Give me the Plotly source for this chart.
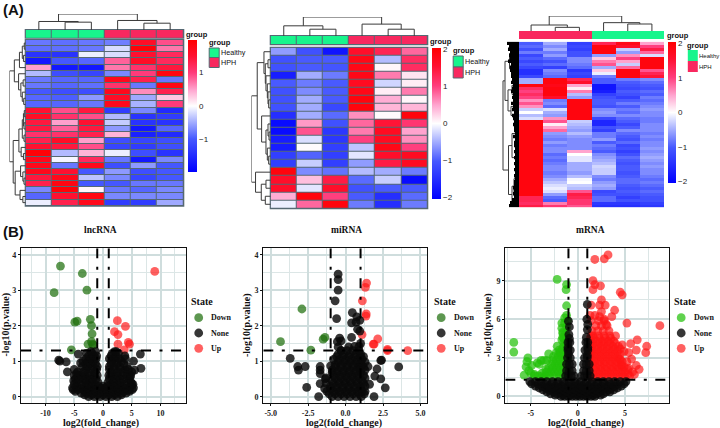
import plotly.graph_objects as go

W, H = 720, 428
SANS = "Liberation Sans"
SERIF = "Liberation Serif"

group_names = ["Healthy", "HPH"]
GREEN, PINK = "#18F58C", "#F8285F"
GRID_EDGE = "#566873"

lnc_heat = [
 [-0.8,-0.85,-0.8,-0.75,1.6,0.9],[-0.85,-0.85,-0.8,-0.2,1.9,0.7],[-1.4,-1.4,-0.1,-0.2,1.5,1.2],
 [-1.7,-1.0,-0.9,0.8,1.6,1.2],[0.5,-1.7,-1.7,0.7,1.1,1.4],[-0.4,-1.1,-1.2,-0.7,1.0,1.8],
 [-0.8,-0.9,-0.9,1.7,1.3,-0.8],[-0.8,-0.9,-0.85,1.1,-0.8,1.8],[-1.0,-1.1,-1.1,1.7,0.6,1.3],
 [-0.9,-0.95,-0.6,1.6,-0.5,0.3],[-0.9,-0.9,-0.8,1.7,-0.45,1.0],[1.5,0.9,1.4,-1.3,-0.7,-1.5],
 [1.6,1.1,0.9,-0.4,-1.4,-1.3],[1.4,0.5,1.5,-0.3,-1.4,-1.4],[1.4,0.8,1.4,-0.6,-1.7,-0.9],
 [1.1,1.1,1.3,0.4,-1.6,-1.5],[1.3,1.6,0.5,-1.1,-1.2,-1.1],[1.5,1.4,0.9,-1.2,-1.3,-1.1],
 [1.9,-0.4,0.4,-0.1,-1.1,-1.4],[1.7,-0.05,1.2,-0.8,-1.7,-0.7],[1.7,-0.8,1.7,-1.1,-0.6,-1.0],
 [1.7,1.5,-1.0,-0.6,-1.1,-1.0],[1.4,1.7,-0.35,-0.7,-1.2,-1.0],[1.3,1.8,-1.0,-1.0,-0.8,-0.8],
 [-0.7,1.9,0.05,-0.8,-0.9,-0.7],[-0.9,1.5,1.8,-0.7,-0.7,-0.7],[-0.1,1.3,1.7,-1.3,-1.3,-0.5]]
mi_heat = [
 [-0.6,-1.1,-1.8,1.6,1.3,0.8],[-1.1,-1.0,-1.0,1.8,-0.4,1.2],[-1.1,-1.0,-1.05,1.8,0.05,1.2],
 [-1.7,-0.5,-0.8,1.8,0.7,0.15],[-1.0,-0.8,-1.0,1.7,-0.25,0.1],[-1.1,-0.7,-1.0,1.8,0.1,0.7],
 [-1.1,-0.5,-1.0,1.9,0.45,0.05],[-1.1,-0.5,-1.2,1.9,0.4,0.4],[-1.5,-0.5,-0.9,0.6,0.02,1.9],
 [-1.9,0.55,-1.1,0.8,1.5,1.1],[-1.9,0.9,-1.4,0.7,1.7,0.5],[-1.7,-0.2,-1.4,1.0,1.7,0.6],
 [-1.7,0.02,-1.3,-0.35,1.8,1.0],[-1.3,-0.95,-1.3,-0.15,1.6,1.7],[-1.3,-0.3,-1.3,-0.6,1.4,1.7],
 [1.9,-0.7,-0.85,-0.4,-0.5,-0.8],[1.6,0.35,1.4,-0.9,-0.3,-1.9],[1.6,-0.15,1.6,-1.1,-1.0,-1.0],
 [0.45,1.9,1.0,-1.0,-1.5,-0.9],[-0.1,0.8,1.9,-0.8,-1.5,-0.8]]
m_heat = [
 [-1.0,-0.5,-1.3,1.3,1.8,0.5],[-0.9,-0.7,-1.2,1.9,1.6,1.0],[-1.1,-0.5,-1.3,1.9,-0.3,1.4],
 [-0.8,-0.8,-1.1,1.9,-0.6,0.8],[-1.2,-0.6,-1.1,-0.6,0.6,-0.2],[-1.0,-0.9,-0.7,0.3,1.0,1.9],
 [-1.2,-1.1,-0.7,0.7,0.5,1.9],[-1.0,-0.9,-0.8,0.9,-0.3,1.9],[-1.2,-1.3,-0.9,-0.5,0.8,1.9],
 [-1.5,-0.7,-1.4,0.3,1.9,0.9],[-1.5,-0.8,-1.2,-0.1,1.9,1.3],[-1.2,-0.9,-1.3,-0.8,1.9,1.5],
 [-0.5,1.9,1.3,-1.0,-0.8,-0.7],[-0.5,1.9,1.6,-1.0,-1.0,-0.9],[1.9,1.8,0.5,-1.8,-1.1,-1.0],
 [1.2,1.9,0.1,-1.8,-1.2,-1.1],[1.0,1.9,0.7,-1.7,-1.0,-0.9],[1.2,1.9,-0.4,-1.3,-1.1,-1.0],
 [1.0,1.6,-0.6,-1.1,-1.3,-0.8],[0.6,-0.8,1.9,-1.0,-1.0,-0.9],[0.9,-0.7,1.9,-1.0,-0.8,-0.8],
 [0.6,-0.9,1.9,-1.1,-1.0,-0.7],[-0.3,-0.2,1.9,-0.7,-0.8,-0.6],[0.0,-0.5,1.9,-0.6,-0.9,-0.7],
 [-0.4,-0.6,1.9,-0.7,-0.7,-0.7],[-0.2,0.6,1.9,-1.2,-0.9,-0.8],[1.9,0.9,-0.3,-1.6,-1.0,-0.8],
 [1.9,0.1,-0.4,-1.6,-1.2,-0.7],[1.9,0.5,-0.5,-1.1,-1.0,-0.7],[1.9,0.8,-0.6,-1.3,-0.7,-0.7],
 [1.9,-0.6,-0.4,-0.8,-0.9,-0.8],[1.9,-0.7,-0.6,-0.8,-1.0,-0.7],[1.9,-0.8,-0.7,-0.6,-1.1,-0.8],
 [1.9,-0.6,-0.7,-1.0,-0.9,-0.7],[1.9,-0.8,-0.7,-0.8,-1.2,-0.7],[1.9,-0.7,-0.7,-0.9,-1.1,-0.6],
 [1.9,-0.7,0.5,-1.0,-1.3,-0.7],[1.9,-0.9,0.0,-0.7,-1.1,-0.6],[1.9,-0.8,-0.15,-0.6,-0.9,-0.5],
 [1.9,-0.9,-0.15,-0.5,-1.0,-0.6],[1.9,-0.8,-0.5,-0.4,-1.1,-0.7],[1.9,-0.7,-0.5,-0.25,-1.0,-0.6],
 [1.9,-0.7,-0.5,-0.3,-1.0,-0.7],[1.9,-0.8,-0.6,-0.3,-1.1,-0.7],[1.9,-0.7,-0.4,-0.7,-1.0,-0.8],
 [1.9,-0.5,-0.05,-0.8,-0.9,-0.9],[1.9,-0.35,0.0,-0.6,-0.9,-0.8],[1.9,-0.2,-0.3,-0.5,-1.0,-0.9],
 [1.9,-0.1,-0.4,-0.6,-1.1,-1.0],[1.9,-0.2,0.9,-1.2,-1.0,-0.9],[1.9,-0.6,1.4,-1.1,-1.1,-1.0],
 [1.3,-0.9,1.3,-0.9,-1.3,-1.1],[1.3,-1.0,1.1,-0.9,-1.1,-1.1],[1.2,0.7,1.1,-1.4,-1.4,-1.3],
 [1.4,1.1,0.9,-1.5,-1.5,-1.4]]

lnc_groups = [0,0,0,1,1,1]
mi_groups = [0,0,0,1,1,1]
m_groups = [1,1,1,0,0,0]

# dendrograms: [merge height, child, child]; a bare integer is a leaf position
lnc_col_tree = [47,[25,0,[23,1,2]],[28,3,[20,4,5]]]
mi_col_tree = [56,[30,0,[20,1,2]],[35,3,[20,4,5]]]
m_col_tree = [45,[18,0,[11,1,2]],[25,3,[21,4,5]]]
lnc_row_tree = [57,[40,[22,[12,[5,0,1],[8,2,3]],4],[25,5,[17,[9,6,7],[12,8,[7,9,10]]]]],
                [44,[24,[12,[8,[5,11,12],[6,13,14]],[6,15,16]],[16,17,[8,18,19]]],
                 [37,[18,20,[10,21,[6,22,23]]],[20,24,[10,25,26]]]]]
mi_row_tree = [57,[40,[20,0,[16,[8,1,2],[14,3,[10,4,[8,5,[6,6,7]]]]]],
                   [27,8,[14,[8,9,[5,10,11]],[10,12,[6,13,14]]]]],
               [45,15,[28,[14,16,17],[16,18,19]]]]
m_row_tree = [16,[14,[9.5,[6,2,5],[7,7,10]],[11,[7,14,17],[8,21,24]]],
              [10.5,[7,30,38],[7,[5,45,50],[5,52,54]]]]
m_row_stubs = [12,10,11,9,10,9,11,8,9,9,8,8,7,8,6,7,8,6,7,6,8,6,7,5,7,6,5,6,5,5,4,6,4,5,5,
               4,5,4,5,4,5,4,5,4,5,4,5,5,6,5,6,5,7,9,10]

# volcano points
lnc_down_x = [-7.4,-8.5,-3.6,-2.8,-2.2,-4.9,-4.5,-2.0,-1.9,-2.6,-2.0,-1.8,-5.5,-1.7]
lnc_down_y = [3.68,2.93,3.47,3.0,2.18,2.1,2.13,2.0,1.77,1.48,1.55,1.48,1.32,1.45]
lnc_up_x = [9.0,2.5,3.9,2.0,2.6,2.6,4.4,4.6,3.7]
lnc_up_y = [3.53,2.14,1.98,1.83,1.75,1.48,1.53,1.48,1.32]
lnc_none_x = [-7.7,-7.5,-6.4,-6.2,5.5,6.6,6.5,-4.3,3.8,5.3,4.9,-4.8,-5.1,-4.6,-3.9,4.7,5.0,3.9]
lnc_none_y = [1.03,1.0,0.98,0.7,0.75,0.8,1.2,1.2,1.15,1.0,0.4,0.5,0.45,0.65,0.95,0.55,0.35,0.75]
mi_down_x = [-2.92,-4.35,-1.38,-1.5,-2.32]
mi_down_y = [2.47,1.55,1.67,1.62,1.31]
mi_up_x = [1.4,1.32,1.12,1.38,1.36,1.1,2.15,1.9,1.85,2.8,4.15,2.8]
mi_up_y = [3.2,3.08,2.7,2.33,2.27,1.75,1.63,1.48,1.48,1.33,1.3,1.3]
mi_none_x = [-0.5,-0.5,-0.5,-0.7,-0.6,0.45,0.75,0.4,0.7,0.95,0.8,0.95,-0.4,-0.55,-0.3,0.4,1.0,-0.5,-0.3,0.2,
 -3.7,-3.2,-3.15,-2.7,-1.7,-1.7,-1.7,-1.0,-1.7,-1.35,-2.6,-1.8,2.35,2.4,2.1,1.95,2.35,2.65,1.9,3.55,1.6,1.5]
mi_none_y = [3.45,3.3,3.0,2.7,2.2,2.37,2.25,2.08,2.1,2.15,1.9,1.85,1.65,1.55,1.57,1.67,1.5,1.4,1.3,1.4,
 1.08,0.85,0.75,0.85,0.85,0.75,0.65,0.87,0.37,0.5,0.26,0.0,1.02,1.03,0.78,0.58,0.5,0.25,0.0,0.84,0.35,0.85]
m_down_x = [-2.2,-1.2,-1.25,-1.2,-1.2,-1.4,-1.7,-1.7,-1.6,-6.8,-6.8,-5.3,-5.4,-5.5,-3.9,-3.1,-3.3,-2.2,-2.0,-5.7,-5.0,-4.6,-4.3,-3.8,-5.2,-4.9,
 -3.6,-3.4,-1.6,-1.2,-1.5,-1.9,-1.3,-1.6,-1.1,-1.3,-1.1,-1.4,-1.1,-1.2,-1.5,-1.3,-1.8]
m_down_y = [9.1,8.7,8.3,7.05,6.3,6.1,5.7,5.3,4.6,4.2,3.45,3.0,2.7,2.3,2.8,3.3,2.8,3.9,3.6,1.65,1.8,1.7,2.6,1.8,2.0,2.4,
 1.5,2.1,5.0,5.4,4.5,3.4,4.1,3.8,3.9,3.4,3.0,5.7,5.9,4.7,4.2,3.6,3.3]
m_up_x = [2.8,3.2,1.8,1.6,1.8,1.6,2.4,4.5,4.7,1.4,2.5,2.3,2.9,2.5,3.9,3.6,1.3,1.8,2.3,2.8,3.0,5.2,8.7,6.3,7.3,7.2,6.2,5.4,5.6,4.7,6.2,6.5,5.8,5.5,4.6,4.9,5.4,5.7,5.2,4.4,6.0]
m_up_y = [10.7,11.0,10.65,9.0,8.7,8.3,8.6,8.1,7.9,7.1,7.5,7.1,7.1,6.6,6.7,6.2,6.3,6.3,6.2,6.0,5.6,5.7,5.5,4.4,3.9,3.4,3.6,3.4,4.1,4.0,2.4,2.1,1.9,1.6,2.4,2.3,2.2,2.9,2.7,2.9,1.7]
m_none_x = [-1.0,-0.9,-0.95,-0.9,-1.05,-1.0,0.95,1.0,1.05,1.0,0.9,1.05,1.0]
m_none_y = [5.85,5.4,4.8,4.5,3.8,3.3,6.0,7.15,5.6,5.2,4.6,3.8,3.2]

def add_row(xs, ys, y, row):
    xs.extend(row)
    ys.extend([y] * len(row))

for y, row in [
    (0.0,[-2.5,-1.5,-0.5,0.5,1.5,2.5]),
    (0.05,[-3.2,-2,-1,0,1,2,3.2]),
    (0.1,[-3.8,-2.8,-1.8,-0.8,0.2,1.2,2.2,3.2,4.0]),
    (0.15,[-4.8,-3.2,-2.3,-1.3,-0.3,0.7,1.7,2.7,3.7,4.6]),
    (0.2,[-5.2,-4.4,-3.4,-2.4,-1.4,-0.4,0.6,1.6,2.6,3.6,4.5,5.1]),
    (0.25,[-5.3,-4,-2.7,-1.5,-0.4,0.4,1.5,2.6,3.8,5.3]),
    (0.3,[-4.6,-3.2,-2,-0.8,0,0.8,2,3.2,4.8]),
    (0.35,[-5,-3.8,-2.6,-1.4,1.4,2.5,3.8,5.2]),
    (0.42,[-4.5,-3,-1.9,-0.9,0.9,1.8,3,4.4]),
    (0.5,[-4.2,-3.5,-3,-2.4,-1.8,-1.2,1.1,1.7,2.4,3,3.6,4.5]),
    (0.6,[-5,-4.3,-3.8,-3.1,-2.3,-1.5,-1,1,1.3,2,2.6,3.4,4.2,4.8]),
    (0.7,[-4.4,-3.4,-2.5,-1.4,1.4,2.5,3.5,5]),
    (0.77,[-5,-3,-2,-1.1,1.1,2,3,4.4]),
    (0.85,[-3.6,-2.7,-1.7,-1,1.1,1.9,2.9,4.2]),
    (0.93,[-3,-2.2,-1.3,1.4,2.4,3.6]),
    (1.0,[-3.5,-2.6,-1.7,1.5,2.4,3.2]),
    (1.07,[-3,-2.1,-1.2,1.1,1.9,2.8,3.9]),
    (1.15,[-2.5,-1.6,-1.1,1.4,2.2]),
    (1.22,[-2.9,-1.9,1.6,2.7]),
    (1.27,[-2.1,-1.3,2.0,2.3])]:
    add_row(lnc_none_x, lnc_none_y, y, row)

for y, row in [
    (0.0,[-0.9,-0.5,-0.1,0.3,0.7,1.05]),
    (0.08,[-1.1,-0.7,-0.3,0.1,0.5,0.9,1.25]),
    (0.15,[-1.25,-0.8,-0.4,0,0.4,0.8,1.1,1.3]),
    (0.23,[-1.4,-1,-0.6,-0.2,0.2,0.6,1.0]),
    (0.3,[-1.0,-0.6,-0.2,0.2,0.6,1.0,1.3]),
    (0.38,[-1.3,-0.8,-0.4,0,0.4,0.8,1.2]),
    (0.45,[-0.9,-0.5,-0.1,0.3,0.7,1.1]),
    (0.53,[-1.3,-0.7,-0.3,0.1,0.5,0.9,1.3]),
    (0.6,[-0.8,-0.4,0,0.4,0.8,1.2]),
    (0.68,[-0.9,-0.6,-0.2,0.2,0.6,1.0]),
    (0.75,[-0.9,-0.5,-0.1,0.3,0.7,1.0,1.3]),
    (0.83,[-0.7,-0.3,0.1,0.5,0.9,1.2]),
    (0.9,[-0.7,-0.3,0.1,0.5,0.9,1.1]),
    (0.98,[-0.5,-0.1,0.3,0.7,1.0,1.3]),
    (1.05,[-0.8,-0.4,0,0.4,0.8,1.1]),
    (1.13,[-0.6,-0.2,0.2,0.6,1.0,1.2]),
    (1.2,[-0.5,-0.1,0.3,0.7,1.0]),
    (1.3,[-0.3,0.1,0.5,0.9]),
    (1.42,[0.6,0.9])]:
    add_row(mi_none_x, mi_none_y, y, row)

for y, row in [
    (1.6,[-2.0,-2.5,-3,-3.4,-3.8,-4.2,-4.6,-1.6,-1.2]),
    (1.9,[-1.3,-1.7,-2.1,-2.5,-2.9,-3.3,-1.1]),
    (2.2,[-1.1,-1.5,-1.9,-2.3,-2.7,-3.1]),
    (2.5,[-1.2,-1.6,-2,-2.4,-2.8,-4.1]),
    (2.8,[-1.1,-1.5,-1.9,-2.3,-2.7,-3.6]),
    (3.1,[-1.3,-1.7,-2.1,-2.6]),
    (3.4,[-1.5,-1.9,-2.3,-1.1]),
    (3.7,[-1.2,-1.6]),
    (4.4,[-1.3,-1.7]),
    (4.9,[-1.3,-1.6])]:
    add_row(m_down_x, m_down_y, y, row)

for y, row in [
    (1.5,[1.4,2.0,2.6,3.2,3.8,4.4,5.0]),(1.7,[1.2,1.7,2.3,2.9,3.5,4.1,4.7,5.3]),
    (1.9,[1.4,2.0,2.6,3.2,3.8,4.4,5.0]),(2.1,[1.2,1.7,2.3,2.9,3.5,4.1,4.7,5.3]),
    (2.3,[1.3,1.9,2.5,3.1,3.7,4.3]),(2.5,[1.2,1.6,2.2,2.8,3.4,4.0,4.6]),
    (2.7,[1.2,1.8,2.4,3.0,3.6,4.2,4.7]),(2.9,[1.3,1.5,2.1,2.7,3.3,3.9,4.5]),
    (3.1,[1.2,1.8,2.4,3.0,3.6,4.2]),(3.3,[1.3,1.5,2.1,2.7,3.3,3.9,4.5]),
    (3.5,[1.2,1.8,2.4,3.0,3.6,4.2,4.9]),(3.7,[1.3,1.5,2.1,2.7,3.3,3.9,4.5]),
    (3.9,[1.3,1.9,2.5,3.1,3.7,4.3]),(4.1,[1.3,1.6,2.2,2.8,3.4,4.0]),
    (4.3,[1.4,2.0,2.6,3.2,3.8]),(4.5,[1.3,1.7,2.3,2.9,3.5]),
    (4.7,[1.4,1.6,2.2,2.8,3.4,4.0]),(5.1,[1.5,2.1,2.7,3.3]),
    (5.5,[1.9,2.5,3.1]),(5.9,[2.2,2.8,1.4])]:
    add_row(m_up_x, m_up_y, y, row)

for y, row in [
    (0.0,[-1.8,-1.4,-1,-0.6,-0.2,0.2,0.6,1,1.4,1.8]),
    (0.1,[-2.4,-1.6,-0.8,0,0.8,1.6,2.4]),
    (0.2,[-2.9,-2.2,-1.5,-0.8,-0.1,0.6,1.3,2,2.7]),
    (0.35,[-3.3,-2.6,-1.9,-1.2,-0.5,0.2,0.9,1.6,2.3,3,3.4]),
    (0.5,[-3.7,-3,-2.3,-1.6,-0.9,-0.2,0.5,1.2,1.9,2.6,3.3,3.8]),
    (0.65,[-4.1,-3.4,-2.7,-2,-1.3,-0.6,0.1,0.8,1.5,2.2,2.9,3.6,4.2]),
    (0.8,[-4.5,-3.8,-3.1,-2.4,-1.7,-1,-0.3,0.4,1.1,1.8,2.5,3.2,3.9,4.6]),
    (0.97,[-4.9,-4.2,-3.5,-2.8,-2.1,-1.4,-0.7,0,0.7,1.4,2.1,2.8,3.5,4.2,4.9]),
    (1.15,[-5.1,-4.5,-3.9,-3.3,-2.7,-2.1,-1.5,-0.9,-0.3,0.3,0.9,1.5,2.1,2.7,3.3,3.9,4.5,5.1]),
    (1.6,[-1.3,-1.0,-0.7,-0.4,0.4,0.7,1.0,1.3]),
    (2.0,[-1.2,-0.9,-0.6,0.6,0.9,1.2]),
    (2.5,[-1.2,-0.9,-0.6,0.6,0.9,1.2]),
    (3.0,[-1.1,-0.8,0.7,1.0]),
    (3.6,[-1.05,-0.8,0.75,1.05]),
    (4.2,[-1.05,-0.85,0.85,1.05])]:
    add_row(m_none_x, m_none_y, y, row)

fc_cuts = [-1, 1]
p_cut = 1.3
lnc_xticks = [-10,-5,0,5,10]
mi_xticks = [-5.0,-2.5,0.0,2.5,5.0]
m_xticks = [-5,0,5]
lnc_yticks = [0,1,2,3,4]
mi_yticks = [0,1,2,3,4]
m_yticks = [0,3,6,9]

HEAT_SCALE = [[0,"#0000FF"],[0.25,"#4658FF"],[0.38,"#A4AEFF"],[0.5,"#FFFFFF"],
              [0.62,"#FFA6D0"],[0.75,"#FF3C7C"],[0.88,"#FF1030"],[1,"#FF0000"]]

fig = go.Figure()
shapes, annos = [], []
axes = {}
axis_n = [0]

def fx(px): return px / W
def fy(py): return 1 - py / H

def new_axes(x0, x1, y0, y1, **kw):
    axis_n[0] += 1
    n = axis_n[0]
    sx = "" if n == 1 else str(n)
    xa = dict(domain=[fx(x0), fx(x1)], anchor="y" + sx, showgrid=False, zeroline=False,
              showticklabels=False, ticks="", showline=False, fixedrange=True)
    ya = dict(domain=[fy(y1), fy(y0)], anchor="x" + sx, showgrid=False, zeroline=False,
              showticklabels=False, ticks="", showline=False, fixedrange=True)
    xa.update(kw.get("xa", {})); ya.update(kw.get("ya", {}))
    axes["xaxis" + sx] = xa
    axes["yaxis" + sx] = ya
    return "x" + sx, "y" + sx

def text(x, y, s, size=8, family=SANS, weight=400, anchor="left", angle=0, color="#111"):
    annos.append(dict(x=fx(x), y=fy(y), xref="paper", yref="paper", text=s, showarrow=False,
                      xanchor=anchor, yanchor="middle", textangle=angle, borderpad=0, borderwidth=0,
                      font=dict(family=family, size=size, color=color, weight=weight)))

def rect(x0, y0, x1, y1, fill, line=None, lw=1, layer="above"):
    shapes.append(dict(type="rect", xref="paper", yref="paper", x0=fx(x0), x1=fx(x1), y0=fy(y1), y1=fy(y0),
                       fillcolor=fill, line=dict(color=line or fill, width=lw if line else 0), layer=layer))

def walk(node, segs):
    if isinstance(node, int):
        return node, 0
    h, a, b = node
    pa, ha = walk(a, segs)
    pb, hb = walk(b, segs)
    segs.append((pa, ha, pa, h)); segs.append((pb, hb, pb, h)); segs.append((pa, h, pb, h))
    return (pa + pb) / 2, h

def dendro(tree, x0, x1, y0, y1, n, vertical, maxh, stubs=None):
    segs = []
    walk(tree, segs)
    xs, ys = [], []
    for p0, h0, p1, h1 in segs:
        if vertical:
            xs += [p0, p1, None]; ys += [h0, h1, None]
        else:
            xs += [h0, h1, None]; ys += [p0, p1, None]
    if vertical:
        xr, yr = [-0.5, n - 0.5], [0, maxh]
    else:
        xr, yr = [maxh, 0], [n - 0.5, -0.5]
    a, b = new_axes(x0, x1, y0, y1, xa=dict(range=xr), ya=dict(range=yr))
    fig.add_trace(go.Scatter(x=xs, y=ys, xaxis=a, yaxis=b, mode="lines", hoverinfo="skip", showlegend=False,
                             line=dict(color="#3a3a3a", width=1)))
    if stubs:
        sx, sy = [], []
        for i, s in enumerate(stubs):
            sx += [0, s, None]; sy += [i, i, None]
        fig.add_trace(go.Scatter(x=sx, y=sy, xaxis=a, yaxis=b, mode="lines", hoverinfo="skip", showlegend=False,
                                 line=dict(color="#000", width=3.4)))

def heat(z, groups, col_tree, row_tree, box, ann, top_h, left_x, cb, ticks, gaps, lg, topmax, rowmax, stubs=None):
    x0, x1, y0, y1 = box
    gap = 1 if gaps else 0
    if gaps:
        rect(x0 - 1, y0 - 1, x1 + 1, y1 + 1, GRID_EDGE, layer="below")
        rect(x0 - 1, ann[0] - 1, x1 + 1, ann[1] + 1, GRID_EDGE, layer="below")
    a, b = new_axes(x0, x1, y0, y1, ya=dict(autorange="reversed"))
    fig.add_trace(go.Heatmap(z=z, xaxis=a, yaxis=b, colorscale=HEAT_SCALE, zmin=cb["zmin"], zmax=cb["zmax"],
        xgap=gap, ygap=gap, hoverinfo="skip",
        colorbar=dict(x=fx(cb["x"]), xanchor="left", y=fy(cb["y0"]), yanchor="top", thickness=cb["w"], thicknessmode="pixels",
                      len=cb["y1"] - cb["y0"], lenmode="pixels", xpad=0, ypad=0, outlinewidth=0, borderwidth=0,
                      tickvals=ticks, ticklen=0, ticks="", ticklabelposition="outside",
                      tickfont=dict(family=SANS, size=8, color="#222"))))
    a, b = new_axes(x0, x1, ann[0], ann[1])
    fig.add_trace(go.Heatmap(z=[groups], xaxis=a, yaxis=b, showscale=False, zmin=0, zmax=1, xgap=gap, hoverinfo="skip",
                             colorscale=[[0, GREEN], [0.5, GREEN], [0.5, PINK], [1, PINK]]))
    dendro(col_tree, x0, x1, top_h, ann[0], len(z[0]), True, topmax)
    dendro(row_tree, left_x, x0, y0, y1, len(z), False, rowmax, stubs)
    text(lg["gx"], lg["gy"], "group", 7.5, weight=700)
    text(lg["tx"], lg["ty"], "group", 7.5, weight=700)
    border = GRID_EDGE if gaps else None
    rect(lg["tx"] + 0.5, lg["s0"], lg["tx"] + 10.5, lg["s1"], GREEN, border, 1)
    rect(lg["tx"] + 0.5, lg["s1"], lg["tx"] + 10.5, lg["s2"], PINK, border, 1)
    text(lg["tx"] + 12, (lg["s0"] + lg["s1"]) / 2, group_names[0], lg["fs"])
    text(lg["tx"] + 12, (lg["s1"] + lg["s2"]) / 2, group_names[1], lg["fs"])

heat(lnc_heat, lnc_groups, lnc_col_tree, lnc_row_tree, (25.7, 183.3, 40, 205.7), (30, 37.7), 14, 9.5,
     dict(x=187.7, w=9, y0=40, y1=171.7, zmin=-1.97, zmax=1.97), [-1, 0, 1], True,
     dict(gx=186, gy=34.7, tx=208.7, ty=43, s0=48, s1=57.5, s2=67.5, fs=7.2), 47, 57)
heat(mi_heat, mi_groups, mi_col_tree, mi_row_tree, (270.7, 427.3, 47.7, 208.3), (36, 44.3), 17, 251.5,
     dict(x=432, w=8.7, y0=47.7, y1=198.3, zmin=-2.03, zmax=2.03), [-2, -1, 0, 1, 2], True,
     dict(gx=430, gy=41, tx=452.7, ty=51, s0=56, s1=67, s2=78, fs=7.2), 56, 57)
heat(m_heat, m_groups, m_col_tree, m_row_tree, (519, 664, 41.7, 207.3), (31, 39), 16, 502,
     dict(x=668, w=8, y0=42, y1=183.3, zmin=-2.04, zmax=2.04), [-2, -1, 0, 1, 2], False,
     dict(gx=666.7, gy=35.7, tx=687.3, ty=45, s0=50, s1=61, s2=72, fs=6), 45, 17, m_row_stubs)

C_NONE = "#0a0a0a"
C_UP = "#FF1414"
MARK = 8.8

def volcano(title, down, none, up, box, xr, yr, xticks, xlabels, yticks, xminor, yminor, c_down, geom):
    x0, x1, y0, y1 = box
    a, b = new_axes(x0, x1, y0, y1,
        xa=dict(range=xr, tickvals=xticks, ticktext=xlabels, showticklabels=True, ticks="outside", ticklen=2, tickcolor="#111",
                showgrid=True, gridcolor="#CFDDDD", gridwidth=2, showline=True, mirror=True, linecolor="#111", linewidth=1.2,
                minor=dict(tickvals=xminor, showgrid=True, gridcolor="#DCE6E6", gridwidth=1.4, ticks=""),
                tickfont=dict(family=SERIF, size=8, weight=700, color="#222")),
        ya=dict(range=yr, tickvals=yticks, showticklabels=True, ticks="outside", ticklen=2, tickcolor="#111",
                showgrid=True, gridcolor="#CFDDDD", gridwidth=2, showline=True, mirror=True, linecolor="#111", linewidth=1.2,
                minor=dict(tickvals=yminor, showgrid=True, gridcolor="#DCE6E6", gridwidth=1.4, ticks=""),
                tickfont=dict(family=SERIF, size=8, weight=700, color="#222")))
    for (px, py), col, op in ((down, c_down, 0.72), (up, C_UP, 0.68), (none, C_NONE, 0.82)):
        fig.add_trace(go.Scatter(x=px, y=py, xaxis=a, yaxis=b, mode="markers", hoverinfo="skip", showlegend=False,
                                 marker=dict(size=MARK, color=col, opacity=op, line=dict(width=0)), cliponaxis=True))
    dash = "10px,8.5px,3px,8.5px"
    for c in fc_cuts:
        fig.add_trace(go.Scatter(x=[c, c], y=[yr[1], yr[0]], xaxis=a, yaxis=b, mode="lines", hoverinfo="skip", showlegend=False,
                                 line=dict(color="#000", width=2, dash=dash)))
    fig.add_trace(go.Scatter(x=[xr[0], xr[1]], y=[p_cut, p_cut], xaxis=a, yaxis=b, mode="lines", hoverinfo="skip", showlegend=False,
                             line=dict(color="#000", width=2, dash=dash)))
    text(geom["title_x"], 229.5, title, 9.5, SERIF, 700, "center")
    text(geom["xt_x"], 423, "log2(fold_change)", 10, SERIF, 700, "center")
    text(geom["yt_x"], 325, "-log10(p.value)", 10, SERIF, 700, "center", -90)
    lx = geom["lg_x"]
    text(lx, 301, "State", 10, SERIF, 700)
    for ly, col, op, lab in ((317.7, c_down, 0.72, "Down"), (333, C_NONE, 0.82, "None"), (348.3, C_UP, 0.68, "Up")):
        shapes.append(dict(type="circle", xref="paper", yref="paper", x0=fx(lx + 3.3), x1=fx(lx + 12.1), y0=fy(ly + 4.4), y1=fy(ly - 4.4),
                           fillcolor=col, opacity=op, line=dict(width=0)))
        text(lx + 20, ly, lab, 8, SERIF, 700)

volcano("lncRNA", (lnc_down_x, lnc_down_y), (lnc_none_x, lnc_none_y), (lnc_up_x, lnc_up_y),
        (21, 185.7, 248.3, 403.3), [-14.26, 14.38], [-0.186, 4.18], lnc_xticks, [str(v) for v in lnc_xticks], lnc_yticks,
        [-12.5, -7.5, -2.5, 2.5, 7.5, 12.5], [0.5, 1.5, 2.5, 3.5], "#1F6F0C",
        dict(title_x=100, xt_x=101, yt_x=5.5, lg_x=191))
volcano("miRNA", (mi_down_x, mi_down_y), (mi_none_x, mi_none_y), (mi_up_x, mi_up_y),
        (263.3, 427.3, 248.3, 403.3), [-5.5, 5.46], [-0.186, 4.18], mi_xticks, ["%.1f" % v for v in mi_xticks], mi_yticks,
        [-3.75, -1.25, 1.25, 3.75], [0.5, 1.5, 2.5, 3.5], "#1F6F0C",
        dict(title_x=346, xt_x=344, yt_x=247, lg_x=433.5))
volcano("mRNA", (m_down_x, m_down_y), (m_none_x, m_none_y), (m_up_x, m_up_y),
        (505.3, 669.3, 248.3, 403.3), [-7.7, 9.7], [-0.54, 11.52], m_xticks, [str(v) for v in m_xticks], m_yticks,
        [-7.5, -2.5, 2.5, 7.5], [1.5, 4.5, 7.5, 10.5], "#22C00A",
        dict(title_x=590, xt_x=585.5, yt_x=488, lg_x=673.5))

text(3, 9, "(A)", 15, SANS, 700)
text(3, 231, "(B)", 15, SANS, 700)

fig.update_layout(width=W, height=H, margin=dict(l=0, r=0, t=0, b=0, autoexpand=False),
                  paper_bgcolor="white", plot_bgcolor="white", showlegend=False,
                  shapes=shapes, annotations=annos, **axes)
fig.write_html("out.html", post_script="document.body.style.margin='0';", config=dict(displayModeBar=False))
